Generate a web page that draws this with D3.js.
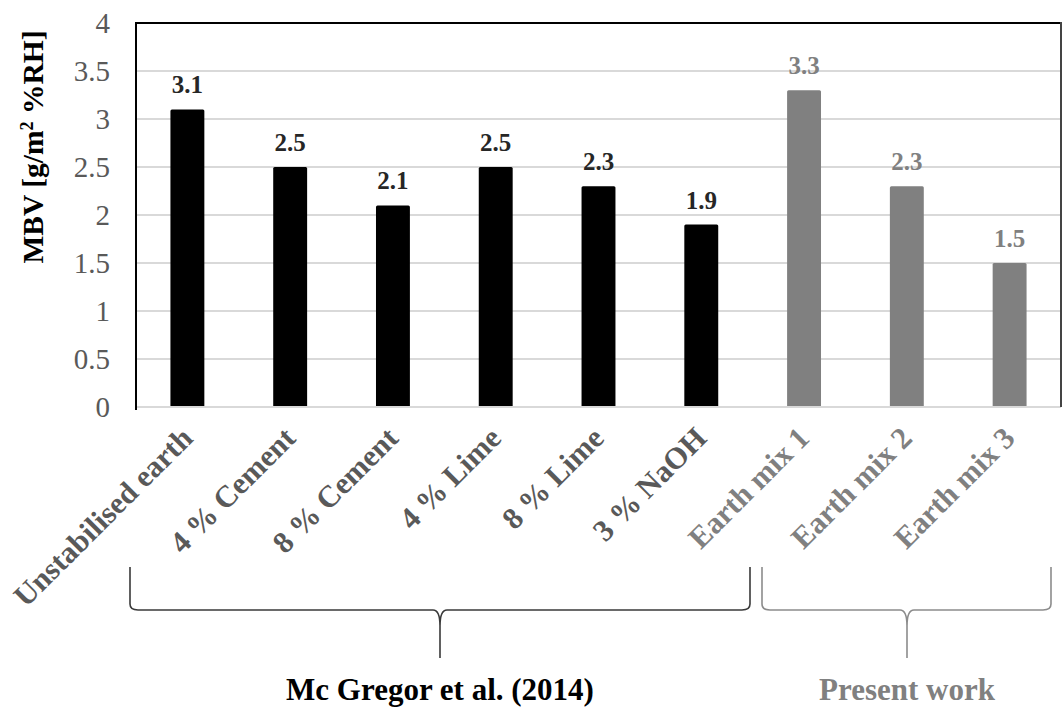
<!DOCTYPE html>
<html><head><meta charset="utf-8">
<script src="https://cdn.jsdelivr.net/npm/d3@7"></script>
<style>body{margin:0;background:#fff}svg{display:block}
svg text{font-family:"Liberation Serif","Times New Roman",Times,"DejaVu Serif",serif}</style>
</head><body>
<script>
const categories = ["Unstabilised earth","4 % Cement","8 % Cement","4 % Lime","8 % Lime","3 % NaOH","Earth mix 1","Earth mix 2","Earth mix 3"];
const values = [3.1, 2.5, 2.1, 2.5, 2.3, 1.9, 3.3, 2.3, 1.5];
const groupOf = [0,0,0,0,0,0,1,1,1];
const groupNames = ["Mc Gregor et al. (2014)", "Present work"];
const yTicks = [0,0.5,1,1.5,2,2.5,3,3.5,4];

(function(){
const W = 1062, H = 707;
const pL = 136, pR = 1061, pT = 23, pB = 407;
const barColor = ["#000000", "#808080"];
const labelColor = ["#595959", "#808080"];
const valColor = ["#262626", "#808080"];
const braceColor = ["#3a3a3a", "#8c8c8c"];
const groupTextColor = ["#000000", "#808080"];

const svg = d3.select("body").append("svg").attr("width", W).attr("height", H);
const x = d3.scaleBand().domain(categories).range([pL, pR]).paddingInner(0.67).paddingOuter(0.335);
const y = d3.scaleLinear().domain([0, 4]).range([pB, pT]);

// gridlines
svg.append("g").selectAll("line").data(yTicks.filter(d => d > 0 && d < 4)).join("line")
  .attr("x1", pL).attr("x2", pR).attr("y1", d => y(d)).attr("y2", d => y(d))
  .attr("stroke", "#d9d9d9").attr("stroke-width", 2);

// y axis
const yAxis = d3.axisLeft(y).tickValues(yTicks).tickSize(0).tickPadding(26).tickFormat(d => String(d));
const ya = svg.append("g").attr("transform", `translate(${pL},0)`).call(yAxis);
ya.select(".domain").remove();
ya.attr("font-family", null).attr("font-size", null);
ya.selectAll("text").attr("font-size", 29).attr("fill", "#595959");

// bars
svg.append("g").selectAll("rect").data(values).join("rect")
  .attr("x", (d, i) => x(categories[i])).attr("width", x.bandwidth())
  .attr("y", d => y(d)).attr("height", d => pB - y(d))
  .attr("rx", 1.5)
  .attr("fill", (d, i) => barColor[groupOf[i]]);

// value labels
svg.append("g").selectAll("text").data(values).join("text")
  .attr("x", (d, i) => x(categories[i]) + x.bandwidth() / 2)
  .attr("y", d => y(d) - 16)
  .attr("text-anchor", "middle")
  .attr("font-weight", "bold").attr("font-size", 25)
  .attr("fill", (d, i) => valColor[groupOf[i]])
  .text(d => d.toFixed(1));

// frame
svg.append("line").attr("x1", pL).attr("x2", pR).attr("y1", pB).attr("y2", pB).attr("stroke", "#d9d9d9").attr("stroke-width", 2);
svg.append("line").attr("x1", pL).attr("x2", pR).attr("y1", pT).attr("y2", pT).attr("stroke", "#000").attr("stroke-width", 2);
svg.append("line").attr("x1", pL).attr("x2", pL).attr("y1", pT - 1).attr("y2", pB + 3).attr("stroke", "#000").attr("stroke-width", 2);
svg.append("line").attr("x1", pR).attr("x2", pR).attr("y1", pT - 1).attr("y2", pB).attr("stroke", "#444").attr("stroke-width", 2);

// x labels
svg.append("g").selectAll("text").data(categories).join("text")
  .attr("transform", (d) => `translate(${x(d) + x.bandwidth() / 2 + 7},${pB + 33}) rotate(-45)`)
  .attr("text-anchor", "end")
  .attr("font-weight", "bold").attr("font-size", 30.5)
  .attr("fill", (d, i) => labelColor[groupOf[i]])
  .text(d => d);

// y title
svg.append("text")
  .attr("transform", `translate(43,147) rotate(-90)`)
  .attr("text-anchor", "middle")
  .attr("font-weight", "bold").attr("font-size", 29.5).attr("fill", "#000")
  .html('MBV [g/m<tspan baseline-shift="super" font-size="18">2</tspan> %RH]');

// braces
const braces = [
  {g: 0, x0: 130, x1: 750, tip: 440},
  {g: 1, x0: 762, x1: 1051, tip: 907}
];
const by0 = 567, by1 = 610, byTip = 658, r = 6;
braces.forEach(b => {
  const p = d3.path();
  p.moveTo(b.x0, by0);
  p.lineTo(b.x0, by1 - r);
  p.quadraticCurveTo(b.x0, by1, b.x0 + r + 2, by1);
  p.lineTo(b.tip - 7, by1);
  p.quadraticCurveTo(b.tip, by1, b.tip, by1 + 16);
  p.lineTo(b.tip, byTip);
  p.moveTo(b.tip, by1 + 16);
  p.quadraticCurveTo(b.tip, by1, b.tip + 7, by1);
  p.lineTo(b.x1 - r - 2, by1);
  p.quadraticCurveTo(b.x1, by1, b.x1, by1 - r);
  p.lineTo(b.x1, by0);
  svg.append("path").attr("d", p.toString()).attr("fill", "none")
    .attr("stroke", braceColor[b.g]).attr("stroke-width", 1.6);
  svg.append("text").attr("x", b.tip).attr("y", 700)
    .attr("text-anchor", "middle")
    .attr("font-weight", "bold").attr("font-size", 31)
    .attr("fill", groupTextColor[b.g]).text(groupNames[b.g]);
});
})();
</script>
</body></html>
